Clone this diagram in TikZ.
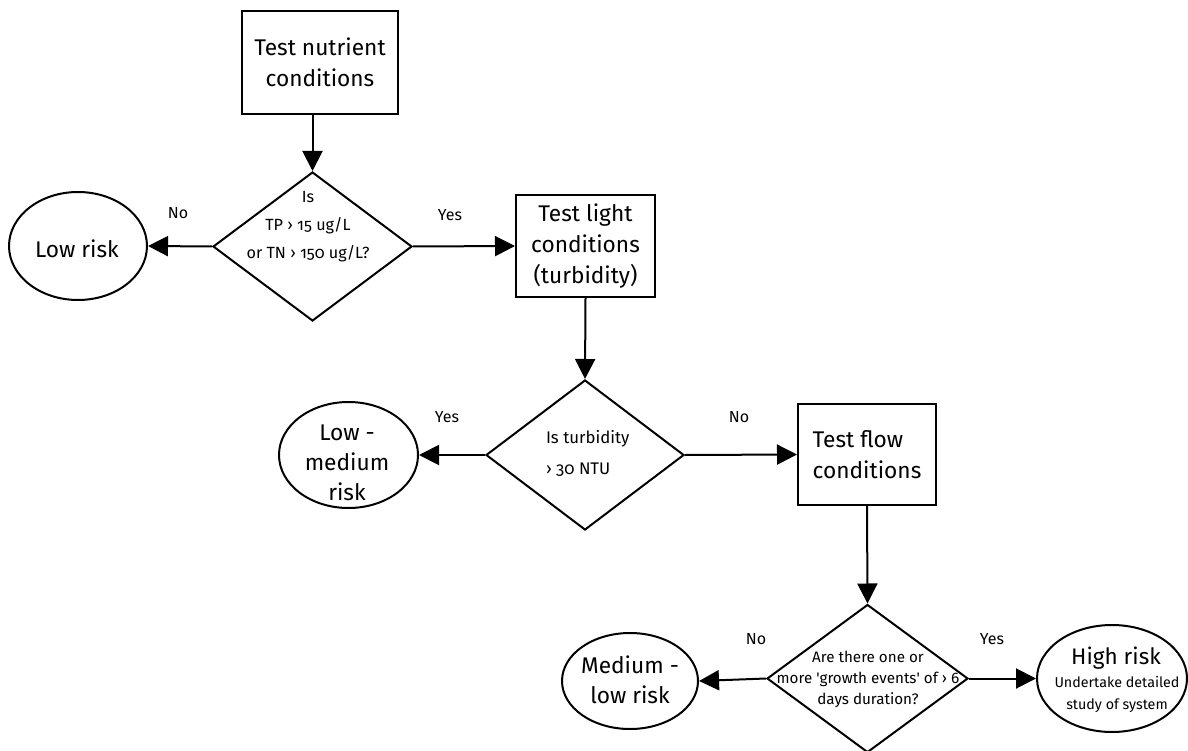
\documentclass[tikz,border=0pt]{standalone}
\usepackage{fontspec}
\setmainfont{Fira Sans}[Numbers=OldStyle]
\usetikzlibrary{arrows.meta,shapes.geometric}
\begin{document}
\begin{tikzpicture}[x=1pt,y=-1pt,line width=2pt,
  procbox/.style={draw,rectangle,inner sep=0pt,align=center,font=\fontsize{22.7}{31}\selectfont},
  decision/.style={draw,diamond,inner sep=0pt,aspect=1.33},
  terminal/.style={draw,ellipse,inner sep=0pt},
  bigtext/.style={align=center,inner sep=0pt,font=\fontsize{22.7}{30}\selectfont},
  dtext/.style={align=center,inner sep=0pt,font=\fontsize{16.2}{28}\selectfont},
  lbl/.style={inner sep=0pt,font=\fontsize{16}{18}\selectfont},
  flow/.style={-{Triangle[length=20pt,width=20pt]},line width=2pt}]
\useasboundingbox (0,0) rectangle (1188,751);
% boxes
\node[procbox,minimum width=156pt,minimum height=103pt] (box1) at (320,62.5) {Test nutrient\\conditions};
\node[procbox,minimum width=139pt,minimum height=102pt] (box2) at (585.5,246) {Test light\\conditions\\(turbidity)};
\node[procbox,minimum width=138pt,minimum height=101pt,align=left] (box3) at (867,454.5) {Test flow\\conditions};
% decisions
\node[decision,minimum width=199pt,minimum height=149pt] (d1) at (312.5,246.5) {};
\node[decision,minimum width=198pt,minimum height=150pt] (d2) at (585,455) {};
\node[decision,minimum width=201pt,minimum height=148pt] (d3) at (867.5,678.5) {};
% terminals
\node[terminal,minimum width=138pt,minimum height=108pt] (e1) at (78,246) {};
\node[terminal,minimum width=139pt,minimum height=106pt] (e2) at (348.5,455) {};
\node[terminal,minimum width=136pt,minimum height=96pt] (e3) at (630,681) {};
\node[terminal,minimum width=150pt,minimum height=107pt] (e4) at (1112,678.5) {};
% texts
\node[dtext] (t1) at (308,227) {Is\\TP › 15 ug/L\\or TN › 150 ug/L?};
\node[inner sep=0pt,align=left,font=\fontsize{16.8}{31}\selectfont,anchor=west] (t2) at (545,453) {Is turbidity\\› 30 NTU};
\node[inner sep=0pt,align=center,font=\fontsize{15.2}{21}\selectfont] (t3) at (868,679) {Are there one or\\more \textquotesingle growth events\textquotesingle{} of › 6\\days duration?};
\node[bigtext] (te1) at (77,249) {Low risk};
\node[bigtext] (te2) at (347,463) {Low -\\medium\\risk};
\node[bigtext] (te3) at (630,680) {Medium -\\low risk};
\node[inner sep=0pt,font=\fontsize{22.5}{30}\selectfont] (te4) at (1116,658) {High risk};
\node[inner sep=0pt,align=center,font=\fontsize{14.3}{22}\selectfont] (te4b) at (1117,694.5) {Undertake detailed\\study of system};
% labels
\node[lbl] (l1) at (178,213) {No};
\node[lbl] (l2) at (450,215) {Yes};
\node[lbl] (l3) at (447,417) {Yes};
\node[lbl] (l4) at (739,417) {No};
\node[lbl] (l5) at (756,639) {No};
\node[lbl] (l6) at (992,639) {Yes};
% connectors
\draw[flow] (box1.south -| d1.north) -- (d1.north);
\draw[flow] (d1.west) -- (e1.east);
\draw[flow] (d1.east) -- (box2.west);
\draw[flow] (box2.south) -- (d2.north);
\draw[flow] (d2.west) -- (e2.east);
\draw[flow] (d2.east) -- (box3.west);
\draw[flow] (box3.south) -- (d3.north);
\draw[flow] (d3.west) -- (e3.east);
\draw[flow] (d3.east) -- (e4.west);
\end{tikzpicture}
\end{document}
